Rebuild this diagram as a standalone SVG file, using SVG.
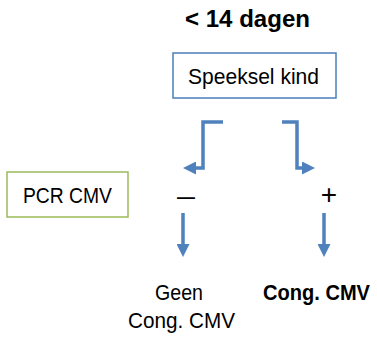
<svg xmlns="http://www.w3.org/2000/svg" width="377" height="340" viewBox="0 0 377 340">
<style>
text{font-family:"Liberation Sans",Arial,sans-serif;font-size:21.5px;fill:#000;text-anchor:middle}
.b{font-weight:bold}
.t{font-size:23px}
.s{font-size:28px}
.c{fill:none;stroke:#4f81bd;stroke-width:3.5}
</style>
<defs>
<marker id="ah" markerUnits="userSpaceOnUse" markerWidth="13" markerHeight="13" refX="4" refY="6.5" orient="auto" viewBox="0 0 13 13">
<path d="M0,0 L13,6.5 L0,13 z" fill="#4f81bd"/>
</marker>
</defs>
<rect width="377" height="340" fill="#fff"/>
<g id="title"><text class="b t" x="247.5" y="27" textLength="125" lengthAdjust="spacingAndGlyphs">&lt; 14 dagen</text></g>
<g id="speeksel">
<rect x="173" y="53" width="163" height="45" fill="#fff" stroke="#4a7ebb" stroke-width="1.5"/>
<text x="253.5" y="83.5" textLength="131" lengthAdjust="spacingAndGlyphs">Speeksel kind</text>
</g>
<g id="pcr">
<rect x="7" y="172" width="121" height="45" fill="#fff" stroke="#9bbb59" stroke-width="1.5"/>
<text x="67.5" y="202.5" textLength="89" lengthAdjust="spacingAndGlyphs">PCR CMV</text>
</g>
<g id="neg"><text class="s" x="186" y="205" textLength="18" lengthAdjust="spacingAndGlyphs">–</text></g>
<g id="pos"><text class="s" x="329" y="204">+</text></g>
<g id="geen"><text x="179" y="300" textLength="48" lengthAdjust="spacingAndGlyphs">Geen</text><text x="181.5" y="328" textLength="107" lengthAdjust="spacingAndGlyphs">Cong. CMV</text></g>
<g id="cong"><text class="b" x="316.5" y="300" textLength="107" lengthAdjust="spacingAndGlyphs">Cong. CMV</text></g>
<g id="connectors">
<polyline class="c" points="223,122 203,122 203,168 192,168" marker-end="url(#ah)"/>
<polyline class="c" points="282,122 297,122 297,168 306,168" marker-end="url(#ah)"/>
<line class="c" x1="183" y1="213" x2="183" y2="248" marker-end="url(#ah)"/>
<line class="c" x1="324" y1="213" x2="324" y2="248" marker-end="url(#ah)"/>
</g>
</svg>
